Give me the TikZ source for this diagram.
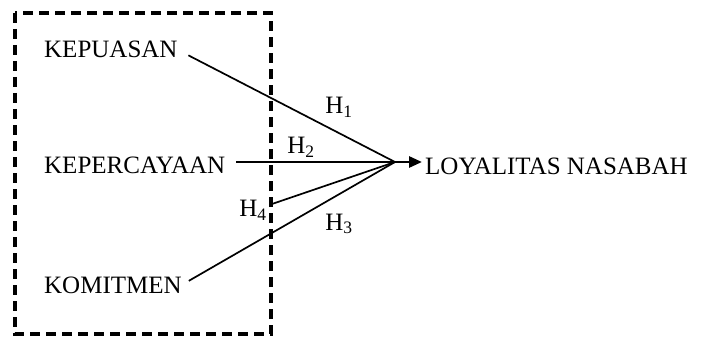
\documentclass[tikz,border=0pt]{standalone}
\usepackage{fontspec}
\setmainfont{Liberation Serif}
\usetikzlibrary{arrows.meta}
\begin{document}
\begin{tikzpicture}[x=1pt,y=-1pt,
  lbl/.style={inner sep=0pt,font=\fontsize{25}{30}\selectfont},
  conn/.style={line width=1.7pt},
  box/.style={line width=3.6pt,dash pattern=on 10pt off 6pt}]
\useasboundingbox (0,0) rectangle (702,337);
\draw[box] (15,13) rectangle (271,334);
\node[lbl,anchor=base west] (kep) at (44,58) {KEPUASAN};
\node[lbl,anchor=base west] (kpc) at (44,173) {KEPERCAYAAN};
\node[lbl,anchor=base west] (kom) at (44,293) {KOMITMEN};
\node[lbl,anchor=base west] (loy) at (425,174) {LOYALITAS NASABAH};
\coordinate (c) at (395,162);
\coordinate (h4s) at (272,204);
\node[lbl] (h1) at (339,107) {H\textsubscript{1}};
\node[lbl] (h2) at (301,147) {H\textsubscript{2}};
\node[lbl] (h3) at (339,224) {H\textsubscript{3}};
\node[lbl] (h4) at (253,210) {H\textsubscript{4}};
\draw[conn,shorten <=12pt] (kep.east) -- (c);
\draw[conn,shorten <=8pt] (kom.east) -- (c);
\draw[conn] (h4s) -- (c);
\draw[line width=2.8pt,-{Triangle[length=13pt,width=11pt]}] ([xshift=11pt]kpc.east |- c) -- ([xshift=-3pt]loy.west |- c);
\end{tikzpicture}
\end{document}
